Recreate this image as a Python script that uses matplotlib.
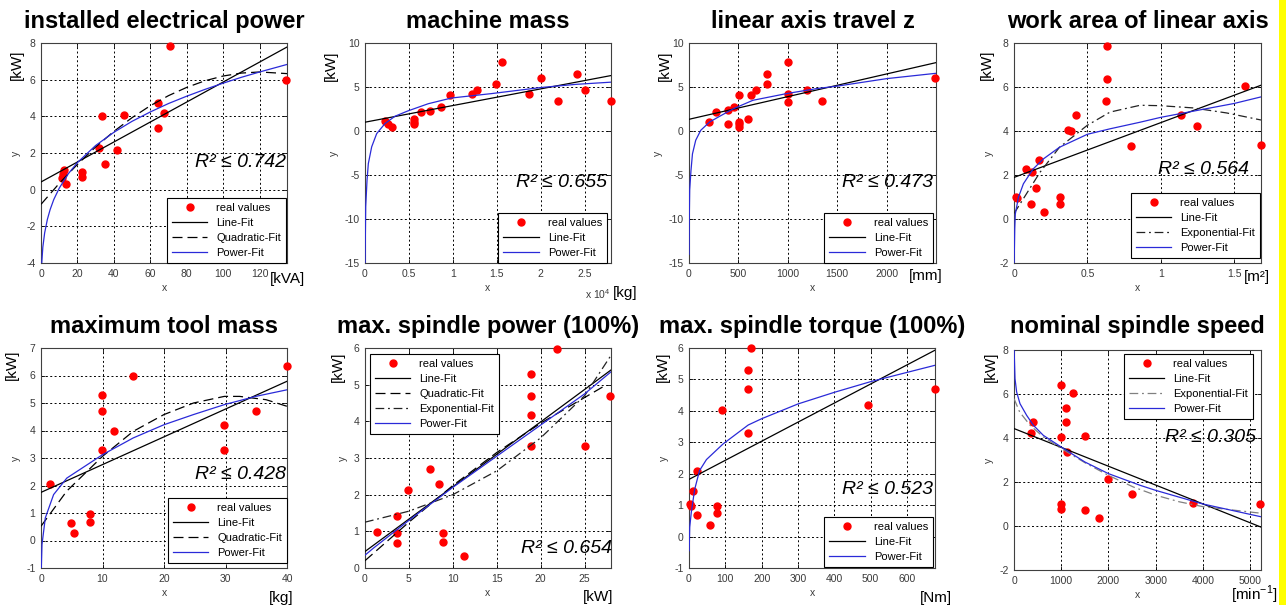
import matplotlib
matplotlib.use('Agg')
import matplotlib.pyplot as plt
from matplotlib.patches import Rectangle

plt.rcParams['font.family'] = ['Liberation Sans', 'DejaVu Sans']
plt.rcParams['mathtext.fontset'] = 'custom'
plt.rcParams['mathtext.rm'] = 'Liberation Sans'
plt.rcParams['axes.unicode_minus'] = False

# ---- installed electrical power [kVA]
p1_x = [70.9, 134.5, 64.2, 64.2, 67.5, 33.5, 45.3, 31.8, 41.5, 35.1, 12.5, 12.0, 11.5, 13.6, 22.5, 22.5]
p1_y = [7.85, 6.0, 4.75, 3.35, 4.2, 4.0, 4.05, 2.3, 2.15, 1.4, 1.05, 0.85, 0.65, 0.3, 0.95, 0.7]
p1_line_x = [0, 135]
p1_line_y = [0.42, 7.78]
p1_quad_x = [0, 10, 20, 30, 40, 50, 60, 70, 80, 90, 100, 110, 120, 135]
p1_quad_y = [-0.8, 0.34, 1.38, 2.33, 3.18, 3.93, 4.58, 5.13, 5.58, 5.94, 6.2, 6.36, 6.42, 6.33]
p1_pow_x = [0.35, 1, 2, 3.5, 5, 7, 10, 15, 20, 30, 40, 50, 60, 70, 80, 90, 100, 110, 120, 135]
p1_pow_y = [-4.1, -3.14, -2.36, -1.62, -1.09, -0.54, 0.08, 0.87, 1.48, 2.41, 3.13, 3.73, 4.24, 4.70,
            5.10, 5.47, 5.81, 6.13, 6.42, 6.83]

# ---- machine mass [kg]
p2_x = [2300, 2600, 3100, 5600, 5600, 5600, 6400, 7400, 8600, 9700, 12200, 12700, 14900, 15600,
        18700, 20000, 22000, 24100, 25000, 28000]
p2_y = [1.1, 0.85, 0.4, 1.4, 1.05, 0.75, 2.15, 2.25, 2.75, 4.05, 4.15, 4.7, 5.35, 7.8,
        4.2, 6.05, 3.4, 6.45, 4.7, 3.4]
p2_line_x = [0, 28000]
p2_line_y = [1.0, 6.3]
p2_pow_x = [10, 40, 80, 230, 380, 760, 1330, 2270, 3400, 4850, 7200, 9850, 14400, 20000, 24000, 28000]
p2_pow_y = [-15.0, -12.0, -8.6, -5.6, -3.7, -1.8, -0.3, 0.84, 1.67, 2.27, 3.1, 3.75, 4.25, 4.94, 5.3, 5.55]

# ---- linear axis travel z [mm]
p3_x = [198, 272, 392, 392, 453, 510, 502, 502, 502, 596, 630, 681, 793, 793, 1000, 1000, 1000,
        1198, 1347, 2494]
p3_y = [1.0, 2.15, 2.35, 0.75, 2.75, 4.05, 1.0, 0.75, 0.4, 1.4, 4.05, 4.7, 6.45, 5.3, 7.85, 4.15, 3.35,
        4.7, 3.4, 6.05]
p3_line_x = [0, 2500]
p3_line_y = [1.33, 7.77]
p3_pow_x = [1, 3, 7, 20, 35, 68, 119, 208, 310, 453, 647, 987, 1293, 1500, 2000, 2494]
p3_pow_y = [-14.0, -9.8, -6.7, -4.5, -2.6, -1.05, 0.08, 1.02, 1.67, 2.55, 3.49, 4.25, 4.82, 5.1, 5.95, 6.55]

# ---- work area of linear axis [m2]
p4_x = [0.014, 0.02, 0.082, 0.12, 0.114, 0.15, 0.172, 0.204, 0.314, 0.314, 0.37, 0.39, 0.423,
        0.636, 0.636, 0.63, 0.795, 1.136, 1.248, 1.577, 1.684]
p4_y = [0.98, 0.95, 2.27, 2.12, 0.68, 1.39, 2.68, 0.3, 0.98, 0.68, 4.06, 4.0, 4.71,
        7.85, 6.38, 5.35, 3.3, 4.74, 4.24, 6.06, 3.36]
p4_line_x = [0, 1.684]
p4_line_y = [1.89, 6.08]
p4_exp_x = [0, 0.041, 0.177, 0.31, 0.5, 0.655, 0.86, 1.0, 1.22, 1.45, 1.684]
p4_exp_y = [0.25, 0.68, 2.12, 3.26, 4.26, 4.86, 5.17, 5.15, 5.05, 4.82, 4.5]
p4_pow_x = [0.001, 0.005, 0.009, 0.03, 0.064, 0.13, 0.2, 0.31, 0.5, 0.655, 0.86, 1.0, 1.3, 1.5, 1.684]
p4_pow_y = [-2.0, -0.45, 0.23, 0.98, 1.6, 2.27, 2.73, 3.26, 3.85, 4.1, 4.4, 4.62, 5.0, 5.25, 5.55]

# ---- maximum tool mass [kg]
p5_x = [1.4, 4.8, 5.3, 7.9, 7.9, 9.9, 9.9, 9.9, 11.9, 14.9, 29.8, 29.8, 34.9, 40]
p5_y = [2.07, 0.64, 0.27, 0.95, 0.68, 5.28, 4.7, 3.3, 4.0, 5.99, 4.21, 3.3, 4.72, 6.35]
p5_line_x = [0, 40]
p5_line_y = [1.75, 5.79]
p5_quad_x = [0, 4.2, 10, 15, 20, 24.8, 29.8, 32.3, 36.6, 40]
p5_quad_y = [0.52, 1.8, 3.06, 3.97, 4.58, 5.0, 5.24, 5.24, 5.12, 4.88]
p5_pow_x = [0.05, 0.16, 0.7, 2.05, 4.2, 10, 15, 20, 24.8, 29.8, 34.9, 40]
p5_pow_y = [-1.0, -0.15, 0.82, 1.67, 2.27, 3.12, 3.73, 4.21, 4.58, 4.94, 5.24, 5.48]

# ---- max. spindle power (100%) [kW]
p6_x = [1.4, 3.6, 3.6, 3.6, 4.9, 7.4, 8.4, 8.9, 8.9, 11.3, 18.9, 18.9, 18.9, 18.9, 21.9, 25.0, 27.9]
p6_y = [0.99, 1.41, 0.96, 0.68, 2.13, 2.7, 2.28, 0.96, 0.71, 0.33, 5.28, 4.7, 4.18, 3.33, 5.98, 3.33, 4.7]
p6_line_x = [0, 28]
p6_line_y = [0.45, 5.4]
p6_quad_x = [0, 5, 10, 15, 20, 25, 27.5]
p6_quad_y = [0.2, 1.25, 2.25, 3.15, 3.95, 4.65, 5.0]
p6_exp_x = [0, 5, 10, 15, 20, 25, 28]
p6_exp_y = [1.25, 1.55, 2.0, 2.65, 3.55, 4.7, 5.8]
p6_pow_x = [0, 1, 5, 10, 15, 20, 25, 28]
p6_pow_y = [0.35, 0.55, 1.3, 2.2, 3.05, 3.9, 4.75, 5.35]

# ---- max. spindle torque (100%) [Nm]
p7_x = [2, 6, 11, 22, 22, 57, 77, 77, 92, 163, 163, 163, 170, 492, 677]
p7_y = [1.04, 0.97, 1.45, 2.1, 0.7, 0.38, 0.98, 0.75, 4.03, 5.29, 4.71, 3.31, 6.0, 4.2, 4.7]
p7_line_x = [0, 677]
p7_line_y = [1.82, 5.93]
p7_pow_x = [0.5, 2, 6.4, 15.6, 29, 48, 94, 163, 200, 300, 400, 500, 677]
p7_pow_y = [-0.45, 0.3, 0.78, 1.5, 2.1, 2.45, 2.95, 3.55, 3.75, 4.22, 4.59, 4.93, 5.45]

# ---- nominal spindle speed [1/min]
p8_x = [360, 400, 1000, 1000, 1000, 1000, 1250, 1100, 1100, 1120, 1500, 1500, 1800, 2000, 2500, 3800, 5200]
p8_y = [4.23, 4.74, 6.41, 4.04, 1.02, 0.76, 6.03, 5.36, 4.74, 3.35, 4.07, 0.71, 0.36, 2.12, 1.44, 1.03, 1.0]
p8_line_x = [0, 5230]
p8_line_y = [4.43, -0.05]
p8_exp_x = [0, 120, 340, 620, 1000, 1500, 2000, 2530, 3000, 3500, 4000, 5230]
p8_exp_y = [5.79, 5.18, 4.58, 4.05, 3.52, 2.88, 2.3, 1.77, 1.4, 1.1, 0.88, 0.58]
p8_pow_x = [3, 21, 56, 127, 268, 410, 621, 1000, 1500, 2000, 2670, 3000, 4000, 5230]
p8_pow_y = [8.0, 6.7, 6.09, 5.56, 5.03, 4.58, 4.12, 3.59, 2.91, 2.38, 1.85, 1.62, 1.0, 0.42]

titles = ['installed electrical power', 'machine mass', 'linear axis travel z', 'work area of linear axis',
          'maximum tool mass', 'max. spindle power (100%)', 'max. spindle torque (100%)', 'nominal spindle speed']
r2_values = ['0.742', '0.655', '0.473', '0.564', '0.428', '0.654', '0.523', '0.305']
units = ['[kVA]', '[kg]', '[mm]', '[m²]', '[kg]', '[kW]', '[Nm]', '[min$^{-1}$]']

W, H = 1286, 605
fig = plt.figure(figsize=(W / 100, H / 100), dpi=100)

TICK_COL = '#3a3a3a'
BLUE = '#2a2ad8'
fit_style = {
    'Line-Fit': dict(color='black', lw=0.9, ls='-'),
    'Quadratic-Fit': dict(color='black', lw=0.9, ls=(0, (8, 4))),
    'Exponential-Fit': dict(color='#222222', lw=0.9, ls=(0, (7, 3, 1.5, 3))),
    'Power-Fit': dict(color=BLUE, lw=0.9, ls='-'),
}

panels = [
    dict(box=(41, 43, 287, 263), pts=(p1_x, p1_y),
         fits=[('Line-Fit', p1_line_x, p1_line_y), ('Quadratic-Fit', p1_quad_x, p1_quad_y),
               ('Power-Fit', p1_pow_x, p1_pow_y)],
         xlim=(0, 135), ylim=(-4, 8), xt=[0, 20, 40, 60, 80, 100, 120], yt=[-4, -2, 0, 2, 4, 6, 8],
         r2=(0.996, 0.455), leg=('lower right', (0.996, 0.0)), kw=(17, 65), unit=(305, 279)),
    dict(box=(365, 43, 611, 263), pts=(p2_x, p2_y),
         fits=[('Line-Fit', p2_line_x, p2_line_y), ('Power-Fit', p2_pow_x, p2_pow_y)],
         xlim=(0, 28000), ylim=(-15, 10), xt=[0, 5000, 10000, 15000, 20000, 25000],
         xtl=['0', '0.5', '1', '1.5', '2', '2.5'], yt=[-15, -10, -5, 0, 5, 10],
         r2=(0.984, 0.364), leg=('lower right', (0.984, 0.0)), kw=(331, 66), unit=(637, 293)),
    dict(box=(689, 43, 936, 263), pts=(p3_x, p3_y),
         fits=[('Line-Fit', p3_line_x, p3_line_y), ('Power-Fit', p3_pow_x, p3_pow_y)],
         xlim=(0, 2500), ylim=(-15, 10), xt=[0, 500, 1000, 1500, 2000], yt=[-15, -10, -5, 0, 5, 10],
         r2=(0.988, 0.364), leg=('lower right', (0.988, 0.0)), kw=(665, 66), unit=(943, 276)),
    dict(box=(1014, 43, 1261, 263), pts=(p4_x, p4_y),
         fits=[('Line-Fit', p4_line_x, p4_line_y), ('Exponential-Fit', p4_exp_x, p4_exp_y),
               ('Power-Fit', p4_pow_x, p4_pow_y)],
         xlim=(0, 1.684), ylim=(-2, 8), xt=[0, 0.5, 1, 1.5], xtl=['0', '0.5', '1', '1.5'],
         yt=[-2, 0, 2, 4, 6, 8],
         r2=(0.951, 0.423), leg=('lower right', (0.996, 0.023)), kw=(987, 65), unit=(1270, 277)),
    dict(box=(41, 348, 287, 568), pts=(p5_x, p5_y),
         fits=[('Line-Fit', p5_line_x, p5_line_y), ('Quadratic-Fit', p5_quad_x, p5_quad_y),
               ('Power-Fit', p5_pow_x, p5_pow_y)],
         xlim=(0, 40), ylim=(-1, 7), xt=[0, 10, 20, 30, 40], yt=[-1, 0, 1, 2, 3, 4, 5, 6, 7],
         r2=(0.996, 0.423), leg=('lower right', (1.0, 0.023)), kw=(12, 365), unit=(293, 598)),
    dict(box=(365, 348, 611, 568), pts=(p6_x, p6_y),
         fits=[('Line-Fit', p6_line_x, p6_line_y), ('Quadratic-Fit', p6_quad_x, p6_quad_y),
               ('Exponential-Fit', p6_exp_x, p6_exp_y), ('Power-Fit', p6_pow_x, p6_pow_y)],
         xlim=(0, 28), ylim=(0, 6), xt=[0, 5, 10, 15, 20, 25], yt=[0, 1, 2, 3, 4, 5, 6],
         r2=(1.004, 0.09), leg=('upper left', (0.02, 0.973)), kw=(338, 367), unit=(613, 597)),
    dict(box=(689, 348, 935, 568), pts=(p7_x, p7_y),
         fits=[('Line-Fit', p7_line_x, p7_line_y), ('Power-Fit', p7_pow_x, p7_pow_y)],
         xlim=(0, 677), ylim=(-1, 6), xt=[0, 100, 200, 300, 400, 500, 600], yt=[-1, 0, 1, 2, 3, 4, 5, 6],
         r2=(0.992, 0.355), leg=('lower right', (0.992, 0.005)), kw=(663, 367), unit=(952, 598)),
    dict(box=(1014, 350, 1261, 570), pts=(p8_x, p8_y),
         fits=[('Line-Fit', p8_line_x, p8_line_y), ('Exponential-Fit', p8_exp_x, p8_exp_y),
               ('Power-Fit', p8_pow_x, p8_pow_y)],
         xlim=(0, 5230), ylim=(-2, 8), xt=[0, 1000, 2000, 3000, 4000, 5000], yt=[-2, 0, 2, 4, 6, 8],
         r2=(0.98, 0.60), leg=('upper right', (0.968, 0.982)), kw=(991, 367), unit=(1278, 595)),
]


def draw_panel(i, p):
    l, t, r, b = p['box']
    ax = fig.add_axes([l / W, 1 - b / H, (r - l) / W, (b - t) / H])
    handles = []
    h, = ax.plot(p['pts'][0], p['pts'][1], 'o', color='red', ms=5, mec='red',
                 clip_on=False, zorder=3, label='real values')
    handles.append(h)
    for name, fx, fy in p['fits']:
        st = dict(fit_style[name])
        if i == 7 and name == 'Exponential-Fit':
            st['color'] = '#808080'
        h, = ax.plot(fx, fy, label=name, zorder=4, **st)
        handles.append(h)

    ax.set_xlim(*p['xlim'])
    ax.set_ylim(*p['ylim'])
    ax.set_xticks(p['xt'])
    if 'xtl' in p:
        ax.set_xticklabels(p['xtl'])
    ax.set_yticks(p['yt'])
    ax.grid(True, color='black', linestyle=(0, (2, 2.5)), linewidth=0.7)
    ax.set_axisbelow(True)
    ax.tick_params(direction='in', length=3, width=0.6, top=True, right=True,
                   labelsize=7.5, labelcolor=TICK_COL, pad=4)
    for s in ax.spines.values():
        s.set_color('#404040')
        s.set_linewidth(0.8)
    ax.set_xlabel('x', fontsize=7.5, color=TICK_COL, labelpad=3)
    ax.set_ylabel('y', fontsize=7.5, color=TICK_COL, labelpad=4)

    loc, anchor = p['leg']
    leg = ax.legend(handles=handles, loc=loc, bbox_to_anchor=anchor, borderaxespad=0,
                    fontsize=8, frameon=True, fancybox=False, edgecolor='black', framealpha=1,
                    handlelength=3.2, labelspacing=0.45, borderpad=0.45, handletextpad=0.8,
                    numpoints=1)
    leg.get_frame().set_linewidth(0.8)
    leg.set_zorder(6)

    ax.text(p['r2'][0], p['r2'][1], 'R² ≤ ' + r2_values[i], transform=ax.transAxes,
            ha='right', va='center', fontsize=14, style='italic', zorder=7)

    fig.text((l + r) / 2 / W, 1 - (28 if t < 200 else 333) / H, titles[i],
             ha='center', va='baseline', fontsize=17, fontweight='bold')
    kx, ky = p['kw']
    fig.text(kx / W, 1 - ky / H, '[kW]', rotation=90, ha='center', va='center', fontsize=11)
    ux, uy = p['unit']
    fig.text(ux / W, 1 - uy / H, units[i], ha='right', va='center', fontsize=11)
    return ax


for i, p in enumerate(panels):
    draw_panel(i, p)

# exponent for the machine mass axis
fig.text(611 / W, 1 - 294 / H, 'x 10$^4$', ha='right', va='center', fontsize=7.5, color=TICK_COL)

fig.patches.append(Rectangle((1279 / W, 0), 7 / W, 1, transform=fig.transFigure,
                             facecolor='#ffff00', edgecolor='none'))

fig.savefig('out.png', dpi=100)
